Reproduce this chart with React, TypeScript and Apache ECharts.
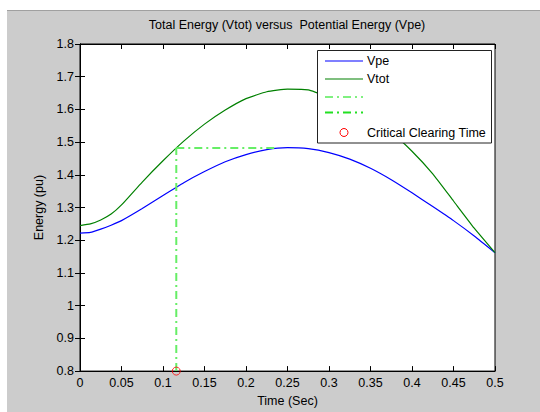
import React, { useEffect, useRef } from "react";
import * as echarts from "echarts";

const FONT = "'Liberation Sans', Arial, Helvetica, sans-serif";
const FS = 12.5;

const title = "Total Energy (Vtot) versus  Potential Energy (Vpe)";
const xName = "Time (Sec)";
const yName = "Energy (pu)";
const legendLabels = ["Vpe", "Vtot", "", "", "Critical Clearing Time"];

const timeValues = [
  0, 0.0125, 0.025, 0.0375, 0.05, 0.075, 0.1, 0.125, 0.15, 0.175, 0.2, 0.225,
  0.25, 0.275, 0.3, 0.325, 0.35, 0.375, 0.4, 0.425, 0.45, 0.475, 0.5,
];
const vpeValues = [
  1.222, 1.224, 1.234, 1.246, 1.26, 1.297, 1.337, 1.376, 1.41, 1.44, 1.462,
  1.477, 1.483, 1.48, 1.468, 1.448, 1.42, 1.385, 1.345, 1.303, 1.26, 1.213,
  1.162,
];
const vtotValues = [
  1.245, 1.25, 1.262, 1.28, 1.308, 1.378, 1.443, 1.503, 1.555, 1.598, 1.633,
  1.654, 1.662, 1.66, 1.637, 1.61, 1.575, 1.53, 1.472, 1.403, 1.32, 1.237,
  1.162,
];
const clearingTime = 0.116;
const clearingEnergy = 1.482;
const crossingTime = 0.234;
const yFloor = 0.8;

const fmt = (v: number) => String(+v.toFixed(2));

export default function App() {
  const ref = useRef<HTMLDivElement>(null);
  useEffect(() => {
    if (!ref.current) return;
    const chart = echarts.init(ref.current, undefined, { renderer: "svg" });
    const zip = (ys: number[]) => timeValues.map((t, i) => [t, ys[i]]);
    const axisCommon = {
      type: "value" as const,
      axisLine: { show: true, lineStyle: { color: "#000", width: 1 } },
      axisTick: { show: true, inside: true, length: 5, lineStyle: { color: "#000" } },
      splitLine: { show: false },
    };
    const labelStyle = { color: "#000", fontSize: FS, fontFamily: FONT };
    const rows = [61, 79, 97, 112.5, 132.5];
    const lx0 = 325;
    const lx1 = 363;
    const tx = 367;
    const font = `${FS}px ${FONT}`;
    chart.setOption({
      animation: false,
      backgroundColor: "#cccccc",
      title: {
        text: title,
        left: 287,
        top: 18,
        padding: 0,
        textAlign: "center",
        textStyle: { ...labelStyle, fontWeight: "normal" },
      },
      grid: {
        left: 80,
        right: 45,
        top: 44,
        bottom: 40,
        show: true,
        backgroundColor: "#fff",
        borderColor: "#000",
        borderWidth: 1,
      },
      xAxis: [
        {
          ...axisCommon,
          min: 0,
          max: 0.5,
          interval: 0.05,
          position: "bottom",
          axisLabel: { ...labelStyle, margin: 5, formatter: fmt },
          name: xName,
          nameLocation: "middle",
          nameGap: 20,
          nameTextStyle: labelStyle,
        },
        {
          ...axisCommon,
          min: 0,
          max: 0.5,
          interval: 0.05,
          position: "top",
          axisLabel: { show: false },
        },
      ],
      yAxis: [
        {
          ...axisCommon,
          min: 0.8,
          max: 1.8,
          interval: 0.1,
          position: "left",
          axisLabel: { ...labelStyle, margin: 6, formatter: fmt },
          name: yName,
          nameLocation: "middle",
          nameGap: 27,
          nameTextStyle: labelStyle,
        },
        {
          ...axisCommon,
          min: 0.8,
          max: 1.8,
          interval: 0.1,
          position: "right",
          axisLabel: { show: false },
        },
      ],
      series: [
        {
          name: legendLabels[0],
          type: "line",
          data: zip(vpeValues),
          showSymbol: false,
          symbol: "none",
          smooth: 0.15,
          lineStyle: { color: "#0000ff", width: 1.2 },
          z: 3,
        },
        {
          name: legendLabels[1],
          type: "line",
          data: zip(vtotValues),
          showSymbol: false,
          symbol: "none",
          smooth: 0.15,
          lineStyle: { color: "#008000", width: 1.2 },
          z: 3,
        },
        {
          name: "vertical",
          type: "line",
          data: [
            [clearingTime, yFloor],
            [clearingTime, clearingEnergy],
          ],
          symbol: "none",
          lineStyle: { color: "#66ee66", width: 2, type: [8, 4, 2, 4] },
          z: 4,
        },
        {
          name: "horizontal",
          type: "line",
          data: [
            [clearingTime, clearingEnergy],
            [crossingTime, clearingEnergy],
          ],
          symbol: "none",
          lineStyle: { color: "#66ee66", width: 2, type: [8, 4, 2, 4] },
          z: 4,
        },
        {
          name: legendLabels[4],
          type: "scatter",
          data: [[clearingTime, yFloor]],
          symbol: "circle",
          symbolSize: 8,
          clip: false,
          itemStyle: { color: "rgba(0,0,0,0)", borderColor: "#ff0000", borderWidth: 1 },
          z: 10,
        },
      ],
      graphic: [
        { type: "rect", shape: { x: 0, y: 0, width: 540, height: 10 }, style: { fill: "#fff" }, silent: true },
        { type: "rect", shape: { x: 0, y: 0, width: 7, height: 412 }, style: { fill: "#fff" }, silent: true },
        { type: "line", shape: { x1: 7, y1: 10.5, x2: 540, y2: 10.5 }, style: { stroke: "#a0a0a0", lineWidth: 1 }, silent: true },
        {
          type: "rect",
          shape: { x: 317.5, y: 50.5, width: 174, height: 92.5 },
          style: { fill: "#fff", stroke: "#222", lineWidth: 1 },
          z: 100,
        },
        { type: "line", shape: { x1: lx0, y1: rows[0], x2: lx1, y2: rows[0] }, style: { stroke: "#0000ff", lineWidth: 1.2 }, z: 101 },
        { type: "line", shape: { x1: lx0, y1: rows[1], x2: lx1, y2: rows[1] }, style: { stroke: "#008000", lineWidth: 1.2 }, z: 101 },
        { type: "line", shape: { x1: lx0, y1: rows[2], x2: lx1, y2: rows[2] }, style: { stroke: "#80f080", lineWidth: 2, lineDash: [8, 4, 2, 4] }, z: 101 },
        { type: "line", shape: { x1: lx0, y1: rows[3], x2: lx1, y2: rows[3] }, style: { stroke: "#22e022", lineWidth: 2, lineDash: [8, 4, 2, 4] }, z: 101 },
        { type: "circle", shape: { cx: 344, cy: rows[4], r: 4 }, style: { fill: "none", stroke: "#ff0000", lineWidth: 1 }, z: 101 },
        { type: "text", x: tx, y: rows[0], style: { text: legendLabels[0], fill: "#000", font, verticalAlign: "middle" }, z: 101 },
        { type: "text", x: tx, y: rows[1], style: { text: legendLabels[1], fill: "#000", font, verticalAlign: "middle" }, z: 101 },
        { type: "text", x: tx, y: rows[4], style: { text: legendLabels[4], fill: "#000", font, verticalAlign: "middle" }, z: 101 },
      ],
    });
    return () => chart.dispose();
  }, []);
  return (
    <div
      ref={ref}
      style={{ position: "fixed", left: 0, top: 0, width: 540, height: 412 }}
    />
  );
}
